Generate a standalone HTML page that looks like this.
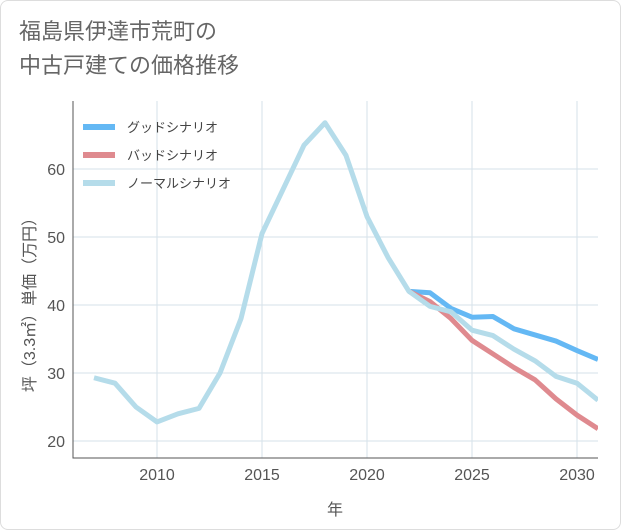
<!DOCTYPE html>
<html><head><meta charset="utf-8"><style>
body{margin:0;background:#fff;}
.card{position:absolute;left:0;top:0;width:619px;height:528px;border:1px solid #ddd;border-radius:8px;background:#fff;font-family:"Liberation Sans","Noto Sans CJK JP",sans-serif;}
.title{position:absolute;left:18px;top:14px;font-size:22px;line-height:34px;color:#666;}
svg text{font-family:"Liberation Sans","Noto Sans CJK JP",sans-serif;}
</style></head><body>
<div class="card">
<div class="title">福島県伊達市荒町の<br>中古戸建ての価格推移</div>
<svg id="c" width="621" height="530" style="position:absolute;left:0;top:0"></svg>
</div>
<script>
const years=[2007,2008,2009,2010,2011,2012,2013,2014,2015,2016,2017,2018,2019,2020,2021,2022,2023,2024,2025,2026,2027,2028,2029,2030,2031];
const normal=[29.3,28.5,25,22.8,24,24.8,30,38,50.5,57,63.5,66.8,62,53,47,42,39.8,39,36.3,35.5,33.5,31.8,29.5,28.5,26];
const futureYears=[2022,2023,2024,2025,2026,2027,2028,2029,2030,2031];
const good=[42,41.8,39.5,38.2,38.3,36.5,35.6,34.7,33.3,32];
const bad=[42,40.5,38,34.8,32.8,30.8,29,26.2,23.8,21.8];
const xTicks=[2010,2015,2020,2025,2030];
const yTicks=[20,30,40,50,60];
const L=72,R=597,T=100,B=457;
const X=y=>L+(y-2006)*21;
const Y=v=>304-(v-40)*6.8;
const s=document.getElementById('c');const NS='http://www.w3.org/2000/svg';
function el(t,a,p){const e=document.createElementNS(NS,t);for(const k in a)e.setAttribute(k,a[k]);(p||s).appendChild(e);return e;}
xTicks.forEach(t=>{const l=el('line',{x1:X(t),x2:X(t),y1:T,y2:B,stroke:'#d5e2ea'});


const tx=el('text',{x:X(t),y:B+22,'text-anchor':'middle','font-size':16,fill:'#555'});tx.textContent=t;

});
yTicks.forEach(t=>{const l=el('line',{x1:L,x2:R,y1:Y(t),y2:Y(t),stroke:'#d5e2ea'});


const tx=el('text',{x:L-8,y:Y(t)+6,'text-anchor':'end','font-size':16,fill:'#555'});tx.textContent=t;

});
const ax=el('path',{d:`M${L} ${T}V${B}H${R}`,stroke:'#555',fill:'none'});


const xt=el('text',{x:334,y:514,'text-anchor':'middle','font-size':16,fill:'#555'});xt.textContent='年';


const yt=el('text',{x:0,y:0,'text-anchor':'middle','font-size':16,fill:'#555',transform:'translate(34,300) rotate(-90)'});yt.textContent='坪（3.3㎡）単価（万円）';


const cp=el('clipPath',{id:'cp'});el('rect',{x:L,y:T-10,width:R-L,height:B-T+10},cp);
function line(xs,vs,col,name){const p=el('polyline',{points:xs.map((x,i)=>X(x)+','+Y(vs[i])).join(' '),fill:'none',stroke:col,'stroke-width':5,'stroke-linejoin':'round','clip-path':'url(#cp)'});

}
line(futureYears,good,'#64b8f4','good-scenario-line');
line(futureYears,bad,'#df8a8f','bad-scenario-line');
line(years,normal,'#b5dcea','normal-scenario-line');
[['グッドシナリオ','#64b8f4'],['バッドシナリオ','#df8a8f'],['ノーマルシナリオ','#b5dcea']].forEach((d,i)=>{const y=126+i*28;
const g=el('g',{});


el('line',{x1:82,x2:114,y1:y,y2:y,stroke:d[1],'stroke-width':6},g);
const t=el('text',{x:126,y:y+5,'font-size':13,fill:'#444'},g);t.textContent=d[0];});
</script>
</body></html>
